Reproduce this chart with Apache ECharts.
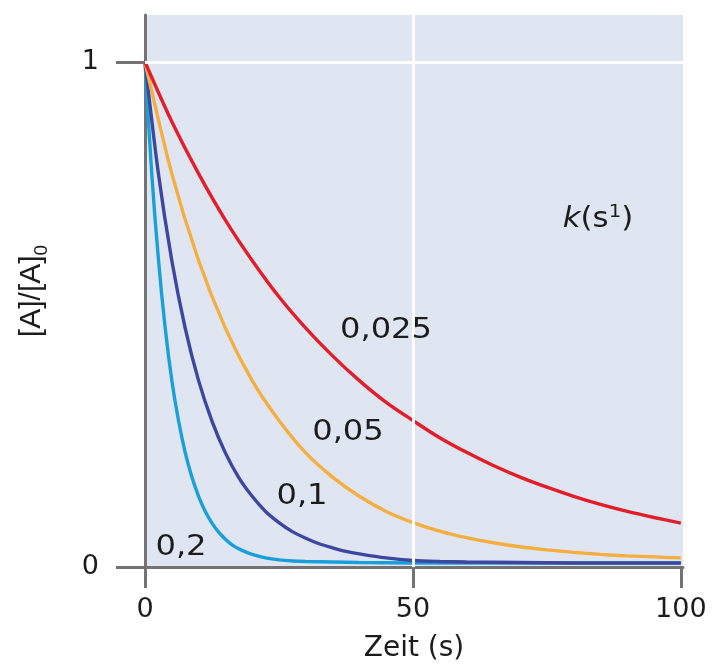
<!DOCTYPE html>
<html>
<head>
<meta charset="utf-8">
<script src="https://cdn.jsdelivr.net/npm/echarts@6/dist/echarts.min.js"></script>
<style>html,body{margin:0;padding:0;background:#fff;}#c{width:715px;height:668px;}</style>
</head>
<body>
<div id="c"></div>
<script>
// Data
const kLabels = ['0,025', '0,05', '0,1', '0,2'];
const xTicks = [0, 50, 100];
const yTicks = [0, 1];

const tSlow = [0,5,10,15,20,25,30,35,40,45,50,55,60,65,70,75,80,85,90,95,100];
const v025  = [1,0.882,0.779,0.687,0.607,0.535,0.473,0.418,0.369,0.326,0.290,0.256,0.227,0.201,0.178,0.158,0.140,0.124,0.110,0.098,0.087];
const v05   = [1,0.779,0.607,0.473,0.369,0.290,0.226,0.178,0.140,0.110,0.088,0.071,0.058,0.048,0.040,0.034,0.029,0.025,0.022,0.020,0.018];

const tFast = [0,2.5,5,7.5,10,12.5,15,17.5,20,22.5,25,27.5,30,32.5,35,37.5,40,45,50,55,60,70,80,90,100];
const v1    = [1,0.779,0.607,0.473,0.369,0.289,0.226,0.177,0.140,0.110,0.088,0.070,0.057,0.046,0.038,0.031,0.026,0.018,0.013,0.011,0.010,0.009,0.008,0.008,0.008];

const tFaster = [0,1.25,2.5,3.75,5,6.25,7.5,8.75,10,11.25,12.5,13.75,15,16.25,17.5,18.75,20,22.5,25,27.5,30,35,40,50,60,80,100];
const v2      = [1,0.780,0.610,0.475,0.370,0.290,0.227,0.178,0.140,0.110,0.087,0.069,0.055,0.044,0.036,0.030,0.025,0.018,0.014,0.012,0.011,0.010,0.009,0.008,0.008,0.008,0.008];

function pairs(t, v) { return t.map((x, i) => [x, v[i]]); }

const chart = echarts.init(document.getElementById('c'), null, {renderer: 'canvas'});
const axisCol = '#737373';
const txtCol = '#1c1c1c';
const tickFont = 'DejaVu Sans';

function curve(name, t, v, color) {
  return {
    name: name, type: 'line', data: pairs(t, v), showSymbol: false, smooth: 0.3,
    lineStyle: {color: color, width: 3.4}, z: 3, silent: true, animation: false
  };
}

chart.setOption({
  animation: false,
  grid: {left: 145, right: 32, top: 15, bottom: 101, show: true, backgroundColor: '#dfe6f2', borderWidth: 0},
  xAxis: {
    type: 'value', min: 0, max: 100.4,
    axisLine: {show: true, onZero: false, lineStyle: {color: axisCol, width: 3}},
    axisTick: {show: true, customValues: xTicks, length: 21, lineStyle: {color: axisCol, width: 3}},
    axisLabel: {customValues: xTicks, margin: 29, fontSize: 27, fontFamily: tickFont, color: txtCol},
    splitLine: {show: false},
    name: 'Zeit (s)', nameLocation: 'middle', nameGap: 68,
    nameTextStyle: {fontSize: 28, fontFamily: tickFont, color: txtCol}
  },
  yAxis: {
    type: 'value', min: 0, max: 1.093,
    axisLine: {show: true, onZero: false, lineStyle: {color: axisCol, width: 3}},
    axisTick: {show: true, customValues: yTicks, length: 29, lineStyle: {color: axisCol, width: 3}},
    axisLabel: {customValues: yTicks, margin: 46, fontSize: 27, fontFamily: tickFont, color: txtCol},
    splitLine: {show: false},
    name: '{a|[A]/[A]}{s|0}', nameLocation: 'middle', nameGap: 94, nameRotate: 90,
    nameTextStyle: {
      color: txtCol,
      rich: {
        a: {fontSize: 30, fontFamily: 'Liberation Sans', color: txtCol, lineHeight: 38},
        s: {fontSize: 19, fontFamily: 'Liberation Sans', color: txtCol, verticalAlign: 'bottom', lineHeight: 17}
      }
    }
  },
  series: [
    {
      type: 'line', data: [], z: 1, silent: true,
      markLine: {
        silent: true, symbol: 'none', animation: false,
        label: {show: false},
        lineStyle: {color: '#ffffff', width: 3, type: 'solid'},
        data: [{yAxis: 1}, {xAxis: 50}]
      }
    },
    curve(kLabels[3], tFaster, v2, '#1aa0d8'),
    curve(kLabels[2], tFast, v1, '#3d47a0'),
    curve(kLabels[1], tSlow, v05, '#f5ae40'),
    curve(kLabels[0], tSlow, v025, '#e21e2a')
  ],
  graphic: [
    {type: 'text', x: 386, y: 331, scaleX: 1.15, z: 10, style: {text: kLabels[0], fontSize: 28, fontFamily: tickFont, fill: txtCol, align: 'center', verticalAlign: 'middle'}},
    {type: 'text', x: 348, y: 433, scaleX: 1.15, z: 10, style: {text: kLabels[1], fontSize: 28, fontFamily: tickFont, fill: txtCol, align: 'center', verticalAlign: 'middle'}},
    {type: 'text', x: 302, y: 497, scaleX: 1.15, z: 10, style: {text: kLabels[2], fontSize: 28, fontFamily: tickFont, fill: txtCol, align: 'center', verticalAlign: 'middle'}},
    {type: 'text', x: 181, y: 548, scaleX: 1.15, z: 10, style: {text: kLabels[3], fontSize: 28, fontFamily: tickFont, fill: txtCol, align: 'center', verticalAlign: 'middle'}},
    {type: 'text', x: 598, y: 220, scaleX: 1.1, z: 10, style: {
      text: '{k|k}{n|(s}{p|1}{n|)}', align: 'center', verticalAlign: 'middle',
      rich: {
        k: {fontSize: 28, fontFamily: tickFont, fontStyle: 'italic', fill: txtCol, lineHeight: 34},
        n: {fontSize: 28, fontFamily: tickFont, fill: txtCol, lineHeight: 34},
        p: {fontSize: 18, fontFamily: tickFont, fill: txtCol, verticalAlign: 'top', lineHeight: 18}
      }
    }}
  ]
});
</script>
</body>
</html>
